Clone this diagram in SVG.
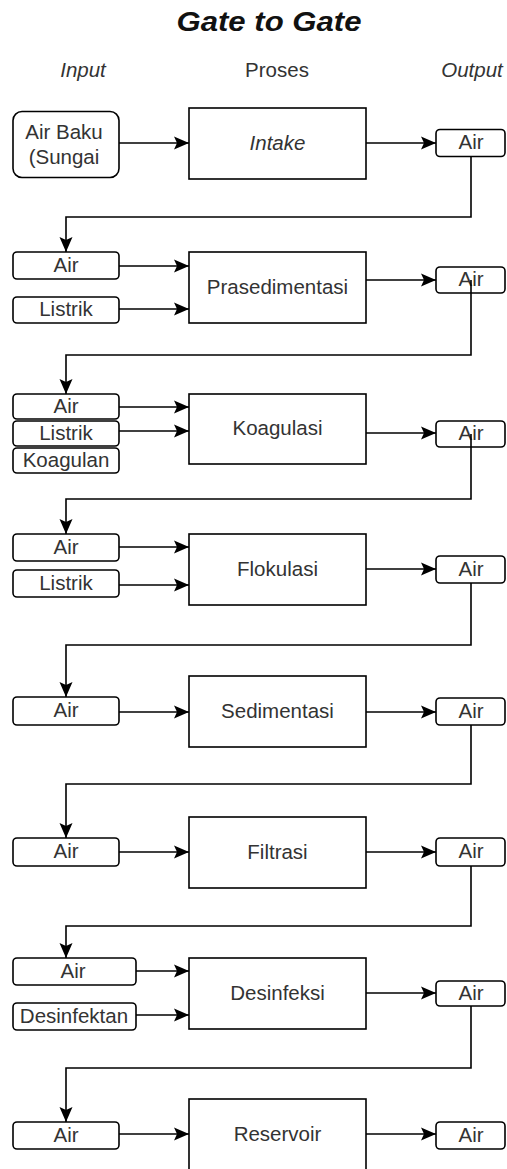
<svg xmlns="http://www.w3.org/2000/svg" width="507" height="1169" viewBox="0 0 507 1169">
  <style>
    .bg { fill: #ffffff; }
    .proc { fill: #ffffff; stroke: #000000; stroke-width: 1.6; }
    .io { fill: #ffffff; stroke: #000000; stroke-width: 1.6; }
    .lbl { font-family: "Liberation Sans", Arial, sans-serif; font-size: 20.5px; fill: #333333; text-anchor: middle; }
    .it { font-style: italic; }
    .title { font-family: "Liberation Sans", Arial, sans-serif; font-size: 27px; font-weight: bold; font-style: italic; fill: #111111; text-anchor: middle; }
    .edge { fill: none; stroke: #000000; stroke-width: 1.6; }
    .arrow { marker-end: url(#head); }
  </style>
  <defs>
    <marker id="head" markerUnits="userSpaceOnUse" viewBox="0 0 15 14" markerWidth="15" markerHeight="14" refX="15" refY="7" orient="auto">
      <path d="M0,0.5 L15,7 L0,13.5 L3,7 Z" fill="#000000"/>
    </marker>
  </defs>

  <rect class="bg" x="0" y="0" width="507" height="1169"/>

  <!-- headings -->
  <g id="headings">
    <text class="title" x="269" y="31" textLength="185" lengthAdjust="spacingAndGlyphs">Gate to Gate</text>
    <text class="lbl it" x="83" y="77">Input</text>
    <text class="lbl" x="277" y="77">Proses</text>
    <text class="lbl it" x="472" y="77">Output</text>
  </g>

  <!-- connectors -->
  <g id="connectors">
    <!-- 1 Intake -->
    <path class="edge arrow" d="M119,143 H189"/>
    <path class="edge arrow" d="M366,143 H436"/>
    <path class="edge arrow" d="M471,156.5 V217 H66 V252"/>
    <!-- 2 Prasedimentasi -->
    <path class="edge arrow" d="M119,266 H189"/>
    <path class="edge arrow" d="M119,309 H189"/>
    <path class="edge arrow" d="M366,280 H436"/>
    <!-- 3 Koagulasi -->
    <path class="edge arrow" d="M119,407 H189"/>
    <path class="edge arrow" d="M119,431 H189"/>
    <path class="edge arrow" d="M366,433 H436"/>
    <!-- 4 Flokulasi -->
    <path class="edge arrow" d="M119,547 H189"/>
    <path class="edge arrow" d="M119,585 H189"/>
    <path class="edge arrow" d="M366,569 H436"/>
    <path class="edge arrow" d="M471,583 V645 H66 V697"/>
    <!-- 5 Sedimentasi -->
    <path class="edge arrow" d="M119,712 H189"/>
    <path class="edge arrow" d="M366,712 H436"/>
    <path class="edge arrow" d="M471,725 V784 H66 V838"/>
    <!-- 6 Filtrasi -->
    <path class="edge arrow" d="M119,852 H189"/>
    <path class="edge arrow" d="M366,852 H436"/>
    <path class="edge arrow" d="M471,866 V926 H66 V958"/>
    <!-- 7 Desinfeksi -->
    <path class="edge arrow" d="M136,971 H189"/>
    <path class="edge arrow" d="M136,1015 H189"/>
    <path class="edge arrow" d="M366,993 H436"/>
    <path class="edge arrow" d="M471,1006 V1068 H66 V1122"/>
    <!-- 8 Reservoir -->
    <path class="edge arrow" d="M119,1134 H189"/>
    <path class="edge arrow" d="M366,1134 H436"/>
  </g>

  <!-- 1 Intake -->
  <g id="in-air-baku">
    <rect class="io" x="13" y="111.5" width="106" height="66" rx="9"/>
    <text class="lbl" x="64" y="139">Air Baku</text>
    <text class="lbl" x="64" y="164">(Sungai</text>
  </g>
  <g id="intake">
    <rect class="proc" x="189" y="108" width="177" height="71"/>
    <text class="lbl it" x="277.5" y="149.5">Intake</text>
  </g>
  <g id="out-intake">
    <rect class="io" x="436" y="129.5" width="69" height="27" rx="4"/>
    <text class="lbl" x="471" y="149">Air</text>
  </g>

  <!-- 2 Prasedimentasi -->
  <g id="in-prased-air">
    <rect class="io" x="13" y="252" width="106" height="27" rx="4"/>
    <text class="lbl" x="66" y="271.5">Air</text>
  </g>
  <g id="in-prased-listrik">
    <rect class="io" x="13" y="297" width="106" height="26" rx="4"/>
    <text class="lbl" x="66" y="316">Listrik</text>
  </g>
  <g id="prasedimentasi">
    <rect class="proc" x="189" y="252" width="177" height="71"/>
    <text class="lbl" x="277.5" y="293.5">Prasedimentasi</text>
  </g>
  <g id="out-prased">
    <rect class="io" x="436" y="267" width="69" height="26" rx="4"/>
    <text class="lbl" x="471" y="286">Air</text>
  </g>
  <path class="edge arrow" d="M471,280 V355 H66 V394"/>

  <!-- 3 Koagulasi -->
  <g id="in-koag-air">
    <rect class="io" x="13" y="394" width="106" height="25" rx="4"/>
    <text class="lbl" x="66" y="412.5">Air</text>
  </g>
  <g id="in-koag-listrik">
    <rect class="io" x="13" y="421" width="106" height="25" rx="4"/>
    <text class="lbl" x="66" y="439.5">Listrik</text>
  </g>
  <g id="in-koag-koagulan">
    <rect class="io" x="13" y="448" width="106" height="25" rx="4"/>
    <text class="lbl" x="66" y="466.5">Koagulan</text>
  </g>
  <g id="koagulasi">
    <rect class="proc" x="189" y="394" width="177" height="70"/>
    <text class="lbl" x="277.5" y="435">Koagulasi</text>
  </g>
  <g id="out-koag">
    <rect class="io" x="436" y="421" width="69" height="26" rx="4"/>
    <text class="lbl" x="471" y="440">Air</text>
  </g>
  <path class="edge arrow" d="M471,434 V499 H66 V534"/>

  <!-- 4 Flokulasi -->
  <g id="in-flok-air">
    <rect class="io" x="13" y="534" width="106" height="27" rx="4"/>
    <text class="lbl" x="66" y="553.5">Air</text>
  </g>
  <g id="in-flok-listrik">
    <rect class="io" x="13" y="570" width="106" height="27" rx="4"/>
    <text class="lbl" x="66" y="589.5">Listrik</text>
  </g>
  <g id="flokulasi">
    <rect class="proc" x="189" y="534" width="177" height="71"/>
    <text class="lbl" x="277.5" y="575.5">Flokulasi</text>
  </g>
  <g id="out-flok">
    <rect class="io" x="436" y="556" width="69" height="27" rx="4"/>
    <text class="lbl" x="471" y="575.5">Air</text>
  </g>

  <!-- 5 Sedimentasi -->
  <g id="in-sed-air">
    <rect class="io" x="13" y="697" width="106" height="28" rx="4"/>
    <text class="lbl" x="66" y="717">Air</text>
  </g>
  <g id="sedimentasi">
    <rect class="proc" x="189" y="676" width="177" height="71"/>
    <text class="lbl" x="277.5" y="718">Sedimentasi</text>
  </g>
  <g id="out-sed">
    <rect class="io" x="436" y="698" width="69" height="27" rx="4"/>
    <text class="lbl" x="471" y="717.5">Air</text>
  </g>

  <!-- 6 Filtrasi -->
  <g id="in-filt-air">
    <rect class="io" x="13" y="838" width="106" height="28" rx="4"/>
    <text class="lbl" x="66" y="858">Air</text>
  </g>
  <g id="filtrasi">
    <rect class="proc" x="189" y="817" width="177" height="71"/>
    <text class="lbl" x="277.5" y="859">Filtrasi</text>
  </g>
  <g id="out-filt">
    <rect class="io" x="436" y="838" width="69" height="28" rx="4"/>
    <text class="lbl" x="471" y="858">Air</text>
  </g>

  <!-- 7 Desinfeksi -->
  <g id="in-desinf-air">
    <rect class="io" x="13" y="958" width="123" height="27" rx="4"/>
    <text class="lbl" x="73" y="977.5">Air</text>
  </g>
  <g id="in-desinf-desinfektan">
    <rect class="io" x="13" y="1003" width="123" height="27" rx="4"/>
    <text class="lbl" x="74" y="1022.5">Desinfektan</text>
  </g>
  <g id="desinfeksi">
    <rect class="proc" x="189" y="958" width="177" height="71"/>
    <text class="lbl" x="277.5" y="999.5">Desinfeksi</text>
  </g>
  <g id="out-desinf">
    <rect class="io" x="436" y="981" width="69" height="25" rx="4"/>
    <text class="lbl" x="471" y="999.5">Air</text>
  </g>

  <!-- 8 Reservoir -->
  <g id="in-res-air">
    <rect class="io" x="13" y="1122" width="106" height="27" rx="4"/>
    <text class="lbl" x="66" y="1141.5">Air</text>
  </g>
  <g id="reservoir">
    <rect class="proc" x="189" y="1099" width="177" height="71"/>
    <text class="lbl" x="277.5" y="1141">Reservoir</text>
  </g>
  <g id="out-res">
    <rect class="io" x="436" y="1122" width="69" height="27" rx="4"/>
    <text class="lbl" x="471" y="1141.5">Air</text>
  </g>
</svg>
